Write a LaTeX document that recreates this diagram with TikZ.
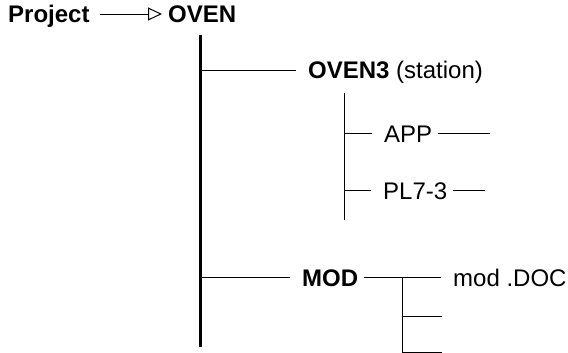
\documentclass[tikz,border=0pt]{standalone}
\usepackage{fontspec}
\setmainfont{Liberation Sans}
\usetikzlibrary{arrows.meta}
\begin{document}
\begin{tikzpicture}[
  x=1pt, y=-1pt,
  font=\fontsize{24}{28}\selectfont,
  lbl/.style={anchor=base west, inner xsep=6pt, inner ysep=2pt},
  hdr/.style={lbl, font=\fontsize{24}{28}\selectfont\bfseries},
  wire/.style={line width=0.9pt},
  branch/.style={wire, shorten >=6pt},
  trunk/.style={line width=3pt},
  pointer/.style={wire, shorten <=4pt, -{Triangle[open, length=14pt, width=13pt, line width=1pt]}}
]
\useasboundingbox (0,0) rectangle (568,353);
% project -> root
\node[hdr] (project) at (2,23) {Project};
\node[hdr] (oven) at (162,23) {OVEN};
\coordinate (arr) at (0,14);
\draw[pointer] (project.east |- arr) -- (oven.west |- arr);
% trunk
\coordinate (trunktop) at (200,35);
\coordinate (trunkend) at (200,347);
\coordinate (j1) at (200,70);
\coordinate (j2) at (200,277);
\draw[trunk] (trunktop) -- (trunkend);
% station
\node[lbl] (oven3) at (302,79) {\bfseries OVEN3 \mdseries(station)};
\draw[branch] (j1) -- (j1 -| oven3.west);
\coordinate (s1top) at (344,93);
\coordinate (s1end) at (344,220);
\coordinate (j11) at (344,133);
\coordinate (j12) at (344,190);
\draw[wire] (s1top) -- (s1end);
\node[lbl] (app) at (378,142) {APP};
\node[lbl] (pl73) at (377,199) {PL7-3};
\coordinate (append) at (490,133);
\coordinate (pl73end) at (485,190);
\draw[branch] (j11) -- (j11 -| app.west);
\draw[wire] (app.east |- j11) -- (append);
\draw[branch] (j12) -- (j12 -| pl73.west);
\draw[wire] (pl73.east |- j12) -- (pl73end);
% module
\node[hdr] (mod) at (296,286) {MOD};
\node[lbl] (moddoc) at (447,286) {mod .DOC};
\draw[branch] (j2) -- (j2 -| mod.west);
\draw[branch] (mod.east |- j2) -- (j2 -| moddoc.west);
\coordinate (s2top) at (402,277);
\coordinate (j21) at (402,316);
\coordinate (s2end) at (402,352);
\coordinate (end21) at (442,316);
\coordinate (end22) at (442,352);
\draw[wire] (s2top) -- (s2end) -- (end22);
\draw[wire] (j21) -- (end21);
\end{tikzpicture}
\end{document}
